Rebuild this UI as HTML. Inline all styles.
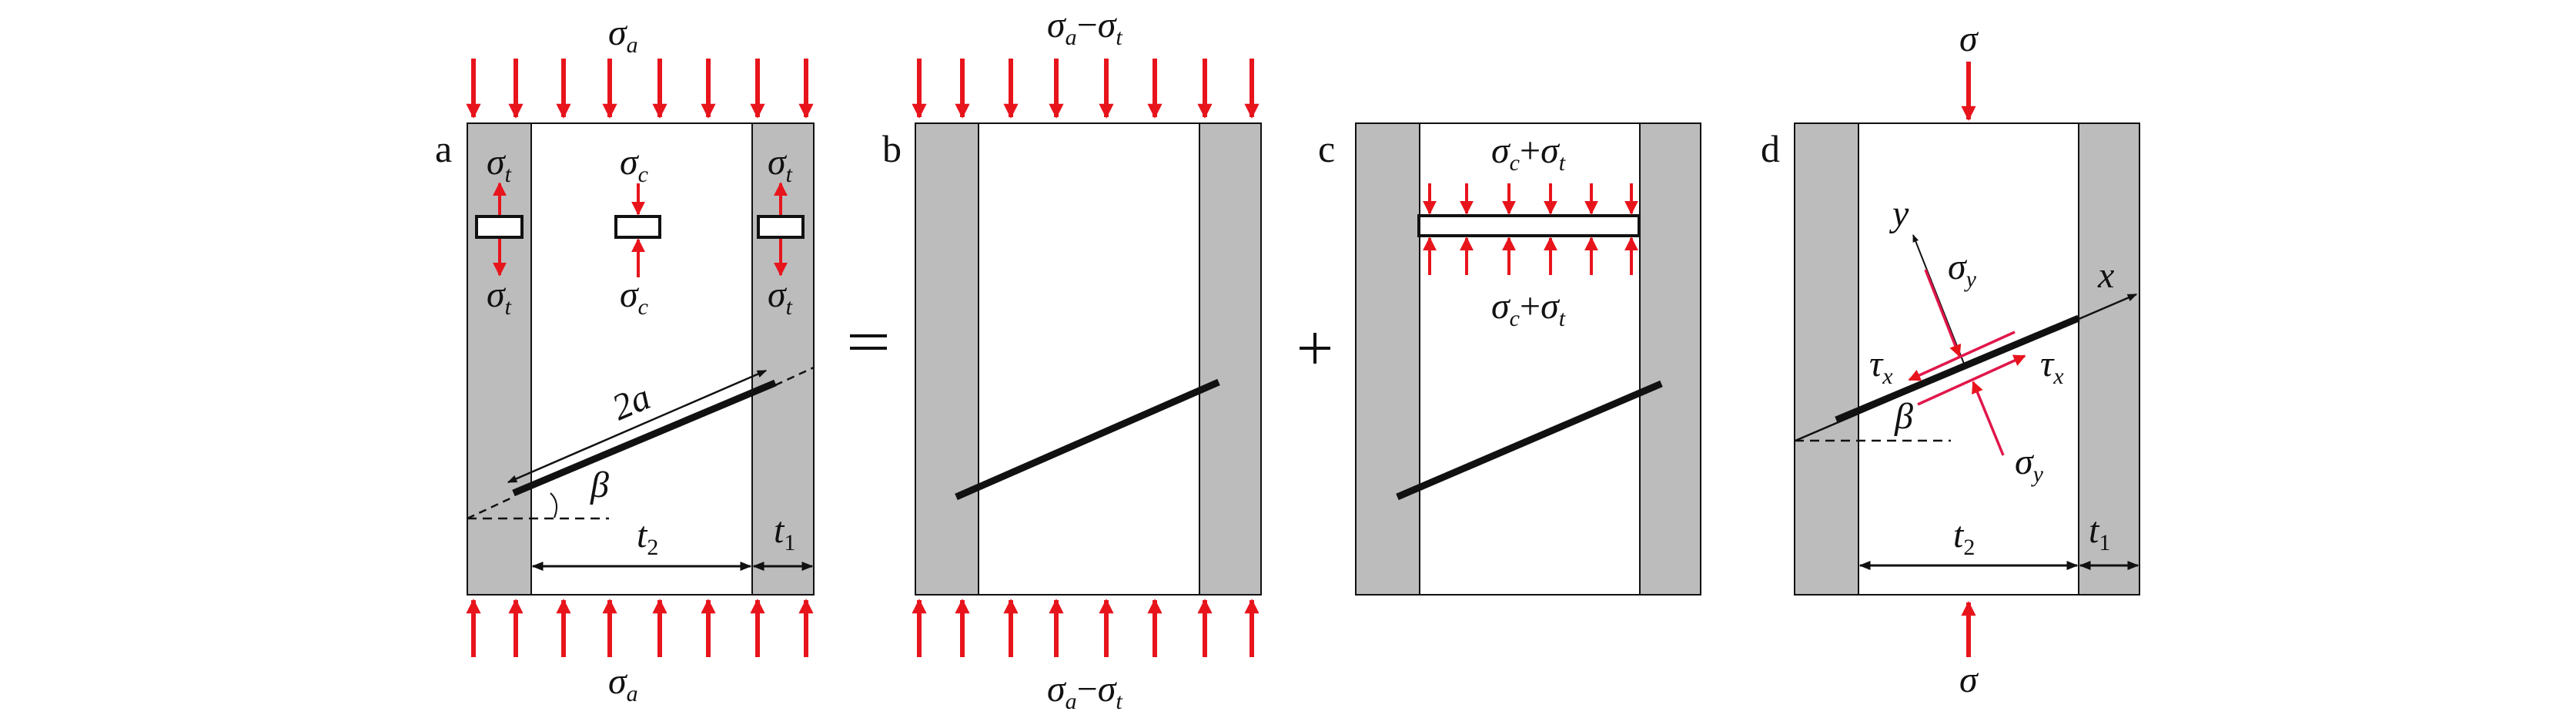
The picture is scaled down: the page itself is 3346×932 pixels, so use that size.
<!DOCTYPE html>
<html><head><meta charset="utf-8"><style>
html,body{margin:0;padding:0;background:#fff;}
svg{display:block;}
text{font-family:"Liberation Serif","DejaVu Serif",serif;fill:#111;}
.it{font-style:italic;}
</style></head><body>
<svg width="3346" height="932" viewBox="0 0 3346 932" xmlns="http://www.w3.org/2000/svg">
<defs>
<marker id="rh" viewBox="0 0 10 10" refX="9" refY="5" markerWidth="3.2" markerHeight="4" orient="auto-start-reverse" markerUnits="strokeWidth"><path d="M0,0 L10,5 L0,10 z" fill="#e8141c"/></marker>
<marker id="rs" viewBox="0 0 10 10" refX="9" refY="5" markerWidth="4.5" markerHeight="4.5" orient="auto-start-reverse" markerUnits="strokeWidth"><path d="M0,0 L10,5 L0,10 z" fill="#e8141c"/></marker>
<marker id="bh" viewBox="0 0 10 10" refX="9" refY="5" markerWidth="7" markerHeight="5" orient="auto-start-reverse" markerUnits="strokeWidth"><path d="M0,1 L10,5 L0,9 z" fill="#111"/></marker>
</defs>
<g id="top-a" stroke="#e8141c" stroke-width="6" marker-end="url(#rh)">
<line x1="615" y1="76" x2="615" y2="152"/><line x1="670" y1="76" x2="670" y2="152"/><line x1="732" y1="76" x2="732" y2="152"/><line x1="792" y1="76" x2="792" y2="152"/><line x1="857" y1="76" x2="857" y2="152"/><line x1="920" y1="76" x2="920" y2="152"/><line x1="984" y1="76" x2="984" y2="152"/><line x1="1047" y1="76" x2="1047" y2="152"/>
<line x1="615" y1="853" x2="615" y2="779"/><line x1="670" y1="853" x2="670" y2="779"/><line x1="732" y1="853" x2="732" y2="779"/><line x1="792" y1="853" x2="792" y2="779"/><line x1="857" y1="853" x2="857" y2="779"/><line x1="920" y1="853" x2="920" y2="779"/><line x1="984" y1="853" x2="984" y2="779"/><line x1="1047" y1="853" x2="1047" y2="779"/>
<line x1="1194" y1="76" x2="1194" y2="152"/><line x1="1250" y1="76" x2="1250" y2="152"/><line x1="1313" y1="76" x2="1313" y2="152"/><line x1="1372" y1="76" x2="1372" y2="152"/><line x1="1437" y1="76" x2="1437" y2="152"/><line x1="1500" y1="76" x2="1500" y2="152"/><line x1="1565" y1="76" x2="1565" y2="152"/><line x1="1626" y1="76" x2="1626" y2="152"/>
<line x1="1194" y1="853" x2="1194" y2="779"/><line x1="1250" y1="853" x2="1250" y2="779"/><line x1="1313" y1="853" x2="1313" y2="779"/><line x1="1372" y1="853" x2="1372" y2="779"/><line x1="1437" y1="853" x2="1437" y2="779"/><line x1="1500" y1="853" x2="1500" y2="779"/><line x1="1565" y1="853" x2="1565" y2="779"/><line x1="1626" y1="853" x2="1626" y2="779"/>
<line x1="2557" y1="80" x2="2557" y2="155"/><line x1="2557" y1="853" x2="2557" y2="782"/>
</g>
<g stroke="#111" stroke-width="2">
<rect x="607" y="160" width="450" height="612" fill="#fff"/>
<rect x="607" y="160" width="83" height="612" fill="#bcbcbc"/><rect x="977" y="160" width="80" height="612" fill="#bcbcbc"/>
<rect x="1189" y="160" width="449" height="612" fill="#fff"/>
<rect x="1189" y="160" width="82" height="612" fill="#bcbcbc"/><rect x="1558" y="160" width="80" height="612" fill="#bcbcbc"/>
<rect x="1761" y="160" width="448" height="612" fill="#fff"/>
<rect x="1761" y="160" width="83" height="612" fill="#bcbcbc"/><rect x="2130" y="160" width="79" height="612" fill="#bcbcbc"/>
<rect x="2331" y="160" width="448" height="612" fill="#fff"/>
<rect x="2331" y="160" width="83" height="612" fill="#bcbcbc"/><rect x="2700" y="160" width="79" height="612" fill="#bcbcbc"/>
</g>
<g stroke="#111" stroke-width="4" fill="#fff">
<rect x="619" y="281" width="59" height="27"/><rect x="800" y="281" width="57" height="27"/><rect x="985" y="281" width="58" height="27"/>
<rect x="1843" y="280" width="286" height="26"/>
</g>
<g stroke="#e8141c" stroke-width="4" marker-end="url(#rs)">
<line x1="649" y1="279" x2="649" y2="238"/><line x1="649" y1="310" x2="649" y2="357"/>
<line x1="1014" y1="279" x2="1014" y2="238"/><line x1="1014" y1="310" x2="1014" y2="357"/>
<line x1="829" y1="238" x2="829" y2="278"/><line x1="829" y1="360" x2="829" y2="311"/>
<line x1="1857" y1="238" x2="1857" y2="277"/><line x1="1905" y1="238" x2="1905" y2="277"/><line x1="1960" y1="238" x2="1960" y2="277"/><line x1="2014" y1="238" x2="2014" y2="277"/><line x1="2067" y1="238" x2="2067" y2="277"/><line x1="2119" y1="238" x2="2119" y2="277"/>
<line x1="1857" y1="357" x2="1857" y2="309"/><line x1="1905" y1="357" x2="1905" y2="309"/><line x1="1960" y1="357" x2="1960" y2="309"/><line x1="2014" y1="357" x2="2014" y2="309"/><line x1="2067" y1="357" x2="2067" y2="309"/><line x1="2119" y1="357" x2="2119" y2="309"/>
</g>
<g stroke="#111" stroke-linecap="butt">
<line x1="667" y1="640" x2="1007" y2="497" stroke-width="9"/>
<line x1="607" y1="673" x2="667" y2="645" stroke-width="2.5" stroke-dasharray="10,7"/>
<line x1="1007" y1="500" x2="1057" y2="477" stroke-width="2.5" stroke-dasharray="10,7"/>
<line x1="607" y1="673" x2="791" y2="673" stroke-width="2.5" stroke-dasharray="12,8"/>
<path d="M715,640 Q728,652 720,672" fill="none" stroke-width="2"/>
<line x1="660" y1="626" x2="995" y2="481" stroke-width="2.5" marker-start="url(#bh)" marker-end="url(#bh)"/>
<line x1="692" y1="735" x2="975" y2="735" stroke-width="3" marker-start="url(#bh)" marker-end="url(#bh)"/>
<line x1="979" y1="735" x2="1055" y2="735" stroke-width="3" marker-start="url(#bh)" marker-end="url(#bh)"/>
<line x1="1242" y1="645" x2="1583" y2="496" stroke-width="9"/>
<line x1="1815" y1="645" x2="2158" y2="498" stroke-width="9"/>
<line x1="2385" y1="545" x2="2700" y2="413" stroke-width="9"/>
<line x1="2332" y1="572" x2="2775" y2="382" stroke-width="2.5" marker-end="url(#bh)"/>
<line x1="2331" y1="572" x2="2534" y2="572" stroke-width="2.5" stroke-dasharray="12,8"/>
<line x1="2553" y1="477" x2="2485" y2="305" stroke-width="2" marker-end="url(#bh)"/>
<line x1="2416" y1="734" x2="2698" y2="734" stroke-width="3" marker-start="url(#bh)" marker-end="url(#bh)"/>
<line x1="2702" y1="734" x2="2777" y2="734" stroke-width="3" marker-start="url(#bh)" marker-end="url(#bh)"/>
</g>
<g stroke="#e0174a" stroke-width="3.5" marker-end="url(#rs)">
<line x1="2501" y1="350" x2="2545" y2="462"/>
<line x1="2602" y1="591" x2="2563" y2="496"/>
<line x1="2617" y1="431" x2="2480" y2="493"/>
<line x1="2491" y1="525" x2="2630" y2="462"/>
</g>
<g stroke="#111" stroke-width="4">
<line x1="1104" y1="436" x2="1152" y2="436"/><line x1="1104" y1="452" x2="1152" y2="452"/>
<line x1="1688" y1="452" x2="1728" y2="452"/><line x1="1708" y1="432" x2="1708" y2="472"/>
</g>
<g font-size="50">
<text x="565" y="210">a</text><text x="1146" y="210">b</text><text x="1712" y="210">c</text><text x="2287" y="210">d</text>
</g>
<g class="it" font-size="48">
<text x="790" y="58">σ<tspan font-size="30" dy="10">a</tspan></text>
<text x="790" y="900">σ<tspan font-size="30" dy="10">a</tspan></text>
<text x="1360" y="48">σ<tspan font-size="30" dy="10">a</tspan><tspan dy="-10" font-style="normal">−</tspan>σ<tspan font-size="30" dy="10">t</tspan></text>
<text x="1360" y="910">σ<tspan font-size="30" dy="10">a</tspan><tspan dy="-10" font-style="normal">−</tspan>σ<tspan font-size="30" dy="10">t</tspan></text>
<text x="632" y="226">σ<tspan font-size="30" dy="10">t</tspan></text>
<text x="632" y="398">σ<tspan font-size="30" dy="10">t</tspan></text>
<text x="997" y="226">σ<tspan font-size="30" dy="10">t</tspan></text>
<text x="997" y="398">σ<tspan font-size="30" dy="10">t</tspan></text>
<text x="805" y="226">σ<tspan font-size="30" dy="10">c</tspan></text>
<text x="805" y="398">σ<tspan font-size="30" dy="10">c</tspan></text>
<text x="1937" y="211">σ<tspan font-size="30" dy="10">c</tspan><tspan dy="-10" font-style="normal">+</tspan>σ<tspan font-size="30" dy="10">t</tspan></text>
<text x="1937" y="413">σ<tspan font-size="30" dy="10">c</tspan><tspan dy="-10" font-style="normal">+</tspan>σ<tspan font-size="30" dy="10">t</tspan></text>
<text x="2545" y="66">σ</text><text x="2545" y="898">σ</text>
<text x="797" y="538" transform="rotate(-23 820 525)">2a</text>
<text x="767" y="645">β</text>
<text x="827" y="710">t<tspan font-size="30" dy="10" font-style="normal">2</tspan></text>
<text x="1005" y="704">t<tspan font-size="30" dy="10" font-style="normal">1</tspan></text>
<text x="2537" y="710">t<tspan font-size="30" dy="10" font-style="normal">2</tspan></text>
<text x="2713" y="704">t<tspan font-size="30" dy="10" font-style="normal">1</tspan></text>
<text x="2461" y="556">β</text>
<text x="2458" y="293">y</text>
<text x="2725" y="373">x</text>
<text x="2530" y="362">σ<tspan font-size="30" dy="10">y</tspan></text>
<text x="2617" y="615">σ<tspan font-size="30" dy="10">y</tspan></text>
<text x="2428" y="488">τ<tspan font-size="30" dy="10">x</tspan></text>
<text x="2650" y="488">τ<tspan font-size="30" dy="10">x</tspan></text>
</g>
</svg>
</body></html>
